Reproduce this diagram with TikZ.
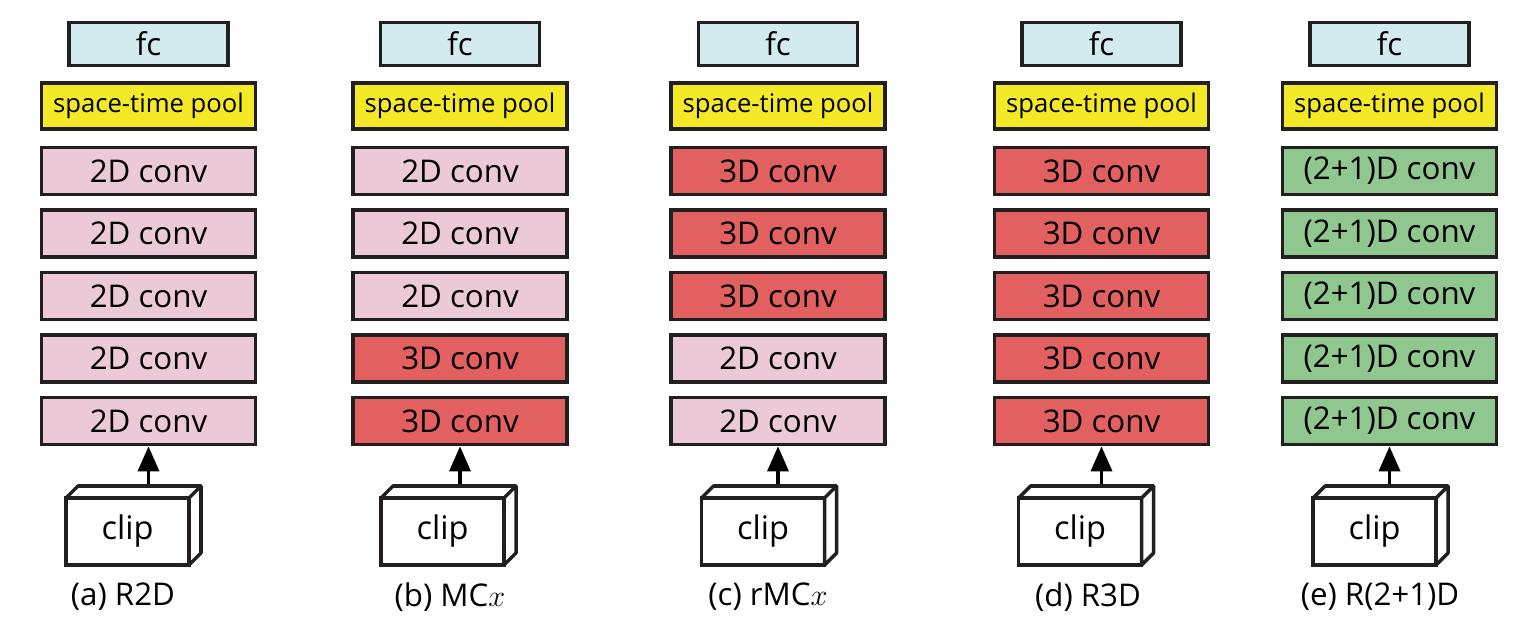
\documentclass[tikz,border=0pt]{standalone}
\usepackage{fontspec}
\setmainfont{Open Sans}
\usetikzlibrary{positioning,arrows.meta}
\definecolor{fccol}{RGB}{211,235,238}
\definecolor{poolcol}{RGB}{243,233,38}
\definecolor{twodcol}{RGB}{236,201,216}
\definecolor{threedcol}{RGB}{226,96,96}
\definecolor{mixcol}{RGB}{143,199,143}
\definecolor{edge}{RGB}{35,31,32}

\begin{document}
\begin{tikzpicture}[node distance=0.24cm,
    block/.style={rectangle, draw=edge, line width=2pt, minimum width=4.28cm, minimum height=0.94cm, inner sep=0pt, font=\fontsize{17.8}{21}\selectfont},
    fc/.style={block, fill=fccol, minimum width=3.18cm, minimum height=0.86cm},
    pool/.style={block, fill=poolcol, minimum height=0.92cm, font=\fontsize{14.6}{17}\selectfont},
    conv2d/.style={block, fill=twodcol},
    conv3d/.style={block, fill=threedcol},
    conv21d/.style={block, fill=mixcol},
    clipbox/.style={rectangle, draw=edge, fill=white, line width=2pt, outer sep=0pt, minimum width=2.46cm, minimum height=1.34cm, font=\fontsize{18.5}{22}\selectfont},
    face/.style={draw=edge, fill=white, line width=2pt, line join=round},
    caption/.style={font=\fontsize{17.8}{21}\selectfont},
    arrow/.style={-{Triangle[length=0.5cm,width=0.42cm]}, line width=2pt}
]
\useasboundingbox (0,0) rectangle (30.28,-12.36);

% (a) R2D
\node[fc] (fca) at (2.97,-0.88) {fc};
\node[pool, below=0.28cm of fca] (poola) {space-time pool};
\node[conv2d, below=0.3cm of poola] (conva1) {2D conv};
\node[conv2d, below=of conva1] (conva2) {2D conv};
\node[conv2d, below=of conva2] (conva3) {2D conv};
\node[conv2d, below=of conva3] (conva4) {2D conv};
\node[conv2d, below=of conva4] (conva5) {2D conv};
\node[clipbox] (clipa) at (2.55,-10.63) {clip};
\node[caption] (capa) at (2.46,-11.94) {(a) R2D};

% (b) MCx
\node[fc] (fcb) at (9.20,-0.88) {fc};
\node[pool, below=0.28cm of fcb] (poolb) {space-time pool};
\node[conv2d, below=0.3cm of poolb] (convb1) {2D conv};
\node[conv2d, below=of convb1] (convb2) {2D conv};
\node[conv2d, below=of convb2] (convb3) {2D conv};
\node[conv3d, below=of convb3] (convb4) {3D conv};
\node[conv3d, below=of convb4] (convb5) {3D conv};
\node[clipbox] (clipb) at (8.85,-10.63) {clip};
\node[caption] (capb) at (9.00,-11.94) {(b) MC$x$};

% (c) rMCx
\node[fc] (fcc) at (15.56,-0.88) {fc};
\node[pool, below=0.28cm of fcc] (poolc) {space-time pool};
\node[conv3d, below=0.3cm of poolc] (convc1) {3D conv};
\node[conv3d, below=of convc1] (convc2) {3D conv};
\node[conv3d, below=of convc2] (convc3) {3D conv};
\node[conv2d, below=of convc3] (convc4) {2D conv};
\node[conv2d, below=of convc4] (convc5) {2D conv};
\node[clipbox] (clipc) at (15.26,-10.63) {clip};
\node[caption] (capc) at (15.36,-11.94) {(c) rMC$x$};

% (d) R3D
\node[fc] (fcd) at (22.03,-0.88) {fc};
\node[pool, below=0.28cm of fcd] (poold) {space-time pool};
\node[conv3d, below=0.3cm of poold] (convd1) {3D conv};
\node[conv3d, below=of convd1] (convd2) {3D conv};
\node[conv3d, below=of convd2] (convd3) {3D conv};
\node[conv3d, below=of convd3] (convd4) {3D conv};
\node[conv3d, below=of convd4] (convd5) {3D conv};
\node[clipbox] (clipd) at (21.60,-10.63) {clip};
\node[caption] (capd) at (21.76,-11.94) {(d) R3D};

% (e) R(2+1)D
\node[fc] (fce) at (27.79,-0.88) {fc};
\node[pool, below=0.28cm of fce] (poole) {space-time pool};
\node[conv21d, below=0.3cm of poole] (conve1) {(2+1)D conv};
\node[conv21d, below=of conve1] (conve2) {(2+1)D conv};
\node[conv21d, below=of conve2] (conve3) {(2+1)D conv};
\node[conv21d, below=of conve3] (conve4) {(2+1)D conv};
\node[conv21d, below=of conve4] (conve5) {(2+1)D conv};
\node[clipbox] (clipe) at (27.49,-10.63) {clip};
\node[caption] (cape) at (27.60,-11.94) {(e) R(2+1)D};

% clip depth faces
\foreach \c in {clipa,clipb,clipc,clipd,clipe}
  \filldraw[face] (\c.north west) -- ++(0.24,0.24) -- ([xshift=0.24cm,yshift=0.24cm]\c.north east)
    -- ([xshift=0.24cm,yshift=0.24cm]\c.south east) -- (\c.south east) -- (\c.north east) -- cycle
    (\c.north east) -- ++(0.24,0.24);

% inputs
\foreach \c in {a,b,c,d,e} {
  \coordinate[below=0.76cm of conv\c5.south] (in\c);
  \draw[arrow] (in\c) -- (conv\c5);
}

\end{tikzpicture}
\end{document}
